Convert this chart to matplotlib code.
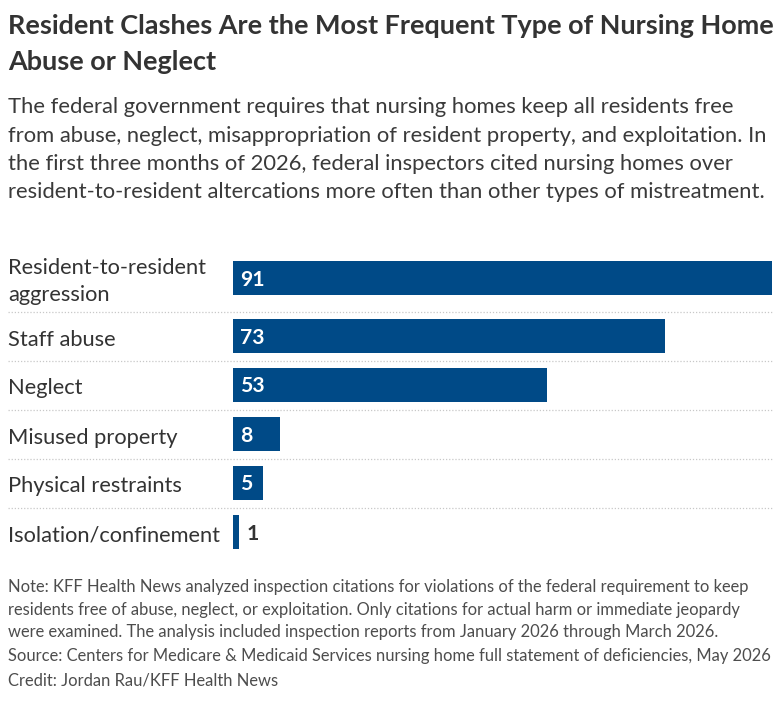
import matplotlib
matplotlib.use("Agg")
import matplotlib.pyplot as plt
from matplotlib import transforms

# ---- data ----
categories = ["Resident-to-resident\naggression", "Staff abuse", "Neglect",
              "Misused property", "Physical restraints", "Isolation/confinement"]
values = [91, 73, 53, 8, 5, 1]

title_lines = ["Resident Clashes Are the Most Frequent Type of Nursing Home",
               "Abuse or Neglect"]
subtitle_lines = [
    "The federal government requires that nursing homes keep all residents free",
    "from abuse, neglect, misappropriation of resident property, and exploitation. In",
    "the first three months of 2026, federal inspectors cited nursing homes over",
    "resident-to-resident altercations more often than other types of mistreatment.",
]
note_lines = [
    "Note: KFF Health News analyzed inspection citations for violations of the federal requirement to keep",
    "residents free of abuse, neglect, or exploitation. Only citations for actual harm or immediate jeopardy",
    "were examined. The analysis included inspection reports from January 2026 through March 2026.",
    "Source: Centers for Medicare & Medicaid Services nursing home full statement of deficiencies, May 2026",
    "Credit: Jordan Rau/KFF Health News",
]

# ---- style ----
W, H = 780, 702
FAM = ["Lato", "DejaVu Sans"]
BAR = "#004a87"
DARK = "#333333"
SUB = "#3a3a3a"
NOTE = "#4d4d4d"
SEP = "#c8c8c8"

fig = plt.figure(figsize=(W / 100, H / 100), dpi=100)
fig.patch.set_facecolor("white")
renderer = fig.canvas.get_renderer()


def fit(text, target, weight="normal"):
    t = fig.text(0, 0, text, fontsize=20, fontweight=weight, family=FAM)
    w = t.get_window_extent(renderer).width
    t.remove()
    return 20 * target / w


def fy(px):
    return 1 - px / H


# title
ts = fit(title_lines[0], 765, "bold")
for line, b in zip(title_lines, [34, 70]):
    fig.text(8 / W, fy(b), line, fontsize=ts, fontweight="bold", color=DARK,
             family=FAM, va="baseline", ha="left")

# subtitle
ss = fit(subtitle_lines[1], 762)
for line, b in zip(subtitle_lines, [113, 141.5, 170, 198.5]):
    fig.text(8 / W, fy(b), line, fontsize=ss, color=SUB, family=FAM,
             va="baseline", ha="left")

# notes
ns = fit(note_lines[3], 764)
for line, b in zip(note_lines, [592, 614.5, 637, 661, 686]):
    fig.text(8 / W, fy(b), line, fontsize=ns, color=NOTE, family=FAM,
             va="baseline", ha="left")

# ---- bars ----
top, bottom = 254, 556
ax = fig.add_axes([233 / W, fy(bottom), 539 / W, (bottom - top) / H])
ax.set_xlim(0, max(values))
ax.set_ylim(bottom, top)
ax.axis("off")

# row layout (pixel units)
row_tops = []
y = top
for c in categories:
    row_tops.append(y)
    y += 49 + 9 * (c.count("\n"))
centers = [t + 24 for t in row_tops]

ax.barh(centers, values, height=34, color=BAR, edgecolor="none")

ls = fit("Isolation/confinement", 213)
vs = ls * 0.97
lab_tr = transforms.blended_transform_factory(fig.transFigure, ax.transData)

for i, (c, v, yc) in enumerate(zip(categories, values, centers)):
    lines = c.split("\n")
    n = len(lines)
    for j, line in enumerate(lines):
        b = yc + 9.5 + (j - (n - 1) / 2) * 27
        ax.text(8 / W, b, line, transform=lab_tr, fontsize=ls, color=DARK,
                family=FAM, va="baseline", ha="left")
    if i > 0:
        ax.plot([8 / W, 772 / W], [row_tops[i], row_tops[i]], transform=lab_tr,
                color=SEP, lw=0.9, linestyle=(0, (1, 1.5)), clip_on=False)
    # value label
    bar_px = v / max(values) * 539
    if bar_px > 20:
        tr = transforms.offset_copy(ax.transData, fig=fig, x=7, y=0, units="dots")
        col = "white"
        xv = 0
    else:
        tr = transforms.offset_copy(ax.transData, fig=fig, x=8, y=0, units="dots")
        col = DARK
        xv = v
    ax.text(xv, yc + 7.5, str(v), transform=tr,
            fontsize=vs, fontweight="bold", color=col, family=FAM,
            va="baseline", ha="left")

fig.savefig("out.png", dpi=100, facecolor="white")
